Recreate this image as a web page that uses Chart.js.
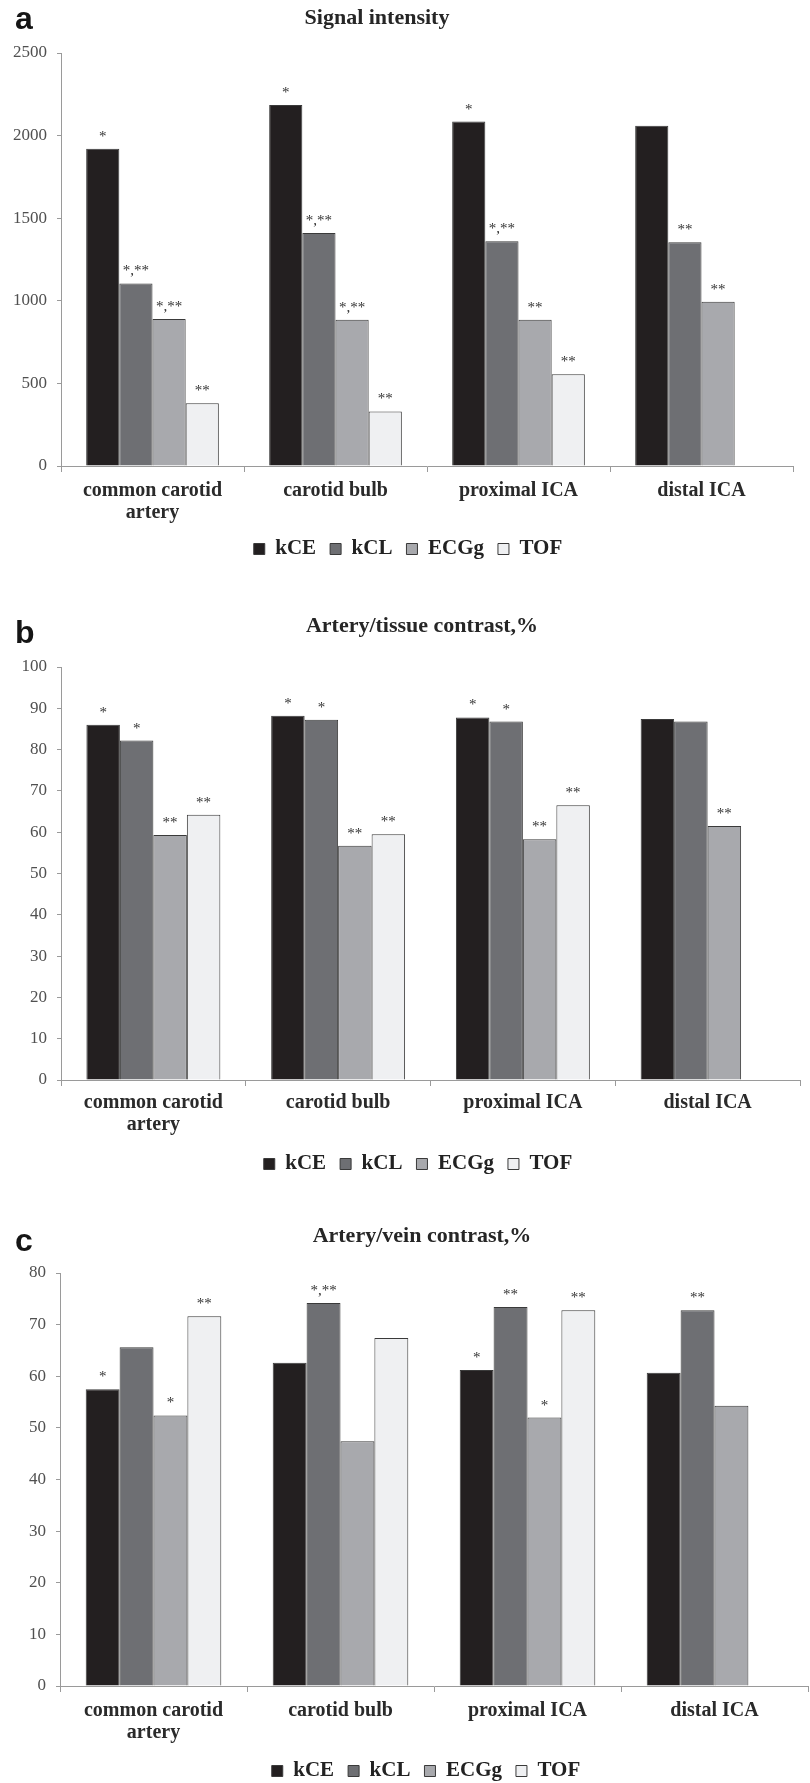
<!DOCTYPE html>
<html>
<head>
<meta charset="utf-8">
<script src="https://cdn.jsdelivr.net/npm/chart.js@4.4.0/dist/chart.umd.min.js"></script>
<style>
  html, body { margin: 0; padding: 0; background: #fff; width: 810px; height: 1783px; overflow: hidden; }
  .panel { position: absolute; left: 0; width: 810px; }
</style>
</head>
<body>
<div class="panel" style="top:0px"><canvas id="chartA" width="810" height="580"></canvas></div>
<div class="panel" style="top:580px"><canvas id="chartB" width="810" height="605"></canvas></div>
<div class="panel" style="top:1180px"><canvas id="chartC" width="810" height="612"></canvas></div>
<script>
const categories = [["common carotid", "artery"], "carotid bulb", "proximal ICA", "distal ICA"];
const seriesNames = ["kCE", "kCL", "ECGg", "TOF"];

// panel a - signal intensity
const signalKCE = [1920, 2185, 2085, 2060];
const signalKCL = [1105, 1410, 1360, 1355];
const signalECGg = [890, 885, 885, 995];
const signalTOF = [380, 330, 555, null];
const signalMarksKCE = ["*", "*", "*", ""];
const signalMarksKCL = ["*,**", "*,**", "*,**", "**"];
const signalMarksECGg = ["*,**", "*,**", "**", "**"];
const signalMarksTOF = ["**", "**", "**", ""];

// panel b - artery/tissue contrast
const tissueKCE = [86.0, 88.2, 87.8, 87.4];
const tissueKCL = [82.2, 87.2, 86.8, 86.8];
const tissueECGg = [59.3, 56.7, 58.3, 61.5];
const tissueTOF = [64.2, 59.5, 66.5, null];
const tissueMarksKCE = ["*", "*", "*", ""];
const tissueMarksKCL = ["*", "*", "*", ""];
const tissueMarksECGg = ["**", "**", "**", "**"];
const tissueMarksTOF = ["**", "**", "**", ""];

// panel c - artery/vein contrast
const veinKCE = [57.5, 62.6, 61.2, 60.7];
const veinKCL = [65.6, 74.2, 73.4, 72.8];
const veinECGg = [52.4, 47.4, 52.0, 54.3];
const veinTOF = [71.6, 67.4, 72.8, null];
const veinMarksKCE = ["*", "", "*", ""];
const veinMarksKCL = ["", "*,**", "**", "**"];
const veinMarksECGg = ["*", "", "*", ""];
const veinMarksTOF = ["**", "", "**", ""];

const fills = ["#231f20", "#6e6f73", "#a8a9ad", "#eff0f2"];
const axisGrey = "#9a9a9a";
const serif = "'Liberation Serif', 'Times New Roman', serif";

const panelTitle = {
    id: "panelTitle",
    afterLayout(chart, args, opts) {
        // nudge the legend row sideways, the layout always centres it on the canvas
        chart.legend.left += opts.legendShift;
        chart.legend.right += opts.legendShift;
    },
    afterDraw(chart, args, opts) {
        const ctx = chart.ctx;
        ctx.save();
        ctx.textBaseline = "alphabetic";
        ctx.fillStyle = "#151515";
        ctx.font = "bold 32px 'Liberation Sans', Arial, sans-serif";
        ctx.textAlign = "left";
        ctx.fillText(opts.letter, 15, opts.letterY);
        ctx.fillStyle = "#262626";
        ctx.font = "bold 22px " + serif;
        ctx.textAlign = "center";
        ctx.fillText(opts.text, opts.x, opts.y);
        ctx.restore();
    }
};

// significance stars above the bars
const starMarks = {
    id: "starMarks",
    afterDatasetsDraw(chart) {
        const ctx = chart.ctx;
        ctx.save();
        ctx.font = "15px " + serif;
        ctx.fillStyle = "#333";
        ctx.textAlign = "center";
        ctx.textBaseline = "alphabetic";
        chart.data.datasets.forEach((ds, i) => {
            chart.getDatasetMeta(i).data.forEach((bar, j) => {
                const s = ds.marks[j];
                if (!s || ds.data[j] == null) return;
                ctx.fillText(s, bar.x, bar.y - 8);
            });
        });
        ctx.restore();
    }
};

function makeChart(id, values, marks, yMax, yStep, look) {
    const padLeft = 4;
    const legendPad = 14;
    const legendTop = look.legendY - legendPad - 10.5;
    const legendH = legendPad + 21 + 10;
    return new Chart(document.getElementById(id), {
        type: "bar",
        data: {
            labels: categories,
            datasets: seriesNames.map((name, i) => ({
                label: name,
                data: values[i],
                marks: marks[i],
                backgroundColor: fills[i],
                borderColor: "#3a3a3a",
                borderWidth: 1,
                categoryPercentage: 0.725,
                barPercentage: 1
            }))
        },
        options: {
            responsive: false,
            animation: false,
            layout: {
                padding: {
                    top: look.top,
                    left: padLeft,
                    right: 810 - look.right,
                    bottom: look.height - legendTop - legendH
                }
            },
            scales: {
                x: {
                    grid: { offset: true, drawOnChartArea: false, tickLength: 6, color: axisGrey },
                    border: { color: axisGrey },
                    ticks: {
                        font: { family: serif, size: 20, weight: "bold", lineHeight: 1.1 },
                        color: "#2a2a2a",
                        padding: look.labelPad,
                        maxRotation: 0
                    },
                    afterFit(s) { s.height = legendTop - look.bottom; }
                },
                y: {
                    min: 0,
                    max: yMax,
                    grid: { drawOnChartArea: false, tickLength: 4, color: axisGrey },
                    border: { color: axisGrey },
                    ticks: {
                        stepSize: yStep,
                        font: { family: serif, size: 17 },
                        color: "#505050",
                        padding: 10,
                        callback: (v) => String(v)
                    },
                    afterFit(s) { s.width = look.left - padLeft; }
                }
            },
            plugins: {
                legend: {
                    position: "bottom",
                    labels: {
                        boxWidth: 11,
                        boxHeight: 11,
                        padding: legendPad,
                        color: "#222",
                        font: { family: serif, size: 21, weight: "bold" }
                    }
                },
                tooltip: { enabled: false },
                panelTitle: {
                    letter: look.letter, text: look.title, x: look.titleX, y: look.titleY, letterY: look.letterY,
                    legendShift: look.legendX - (padLeft + look.right) / 2
                }
            }
        },
        plugins: [panelTitle, starMarks]
    });
}

makeChart("chartA",
    [signalKCE, signalKCL, signalECGg, signalTOF],
    [signalMarksKCE, signalMarksKCL, signalMarksECGg, signalMarksTOF],
    2500, 500,
    { letter: "a", title: "Signal intensity", titleX: 377, titleY: 24, letterY: 29,
      top: 53, bottom: 466, left: 61, right: 793, height: 580, legendX: 408, legendY: 549, labelPad: 8 });

makeChart("chartB",
    [tissueKCE, tissueKCL, tissueECGg, tissueTOF],
    [tissueMarksKCE, tissueMarksKCL, tissueMarksECGg, tissueMarksTOF],
    100, 10,
    { letter: "b", title: "Artery/tissue contrast,%", titleX: 422, titleY: 52, letterY: 63,
      top: 87, bottom: 500, left: 61, right: 800, height: 605, legendX: 418, legendY: 584, labelPad: 6 });

makeChart("chartC",
    [veinKCE, veinKCL, veinECGg, veinTOF],
    [veinMarksKCE, veinMarksKCL, veinMarksECGg, veinMarksTOF],
    80, 10,
    { letter: "c", title: "Artery/vein contrast,%", titleX: 422, titleY: 62, letterY: 71,
      top: 93, bottom: 506, left: 60, right: 808, height: 612, legendX: 426, legendY: 591, labelPad: 8 });
</script>
</body>
</html>
